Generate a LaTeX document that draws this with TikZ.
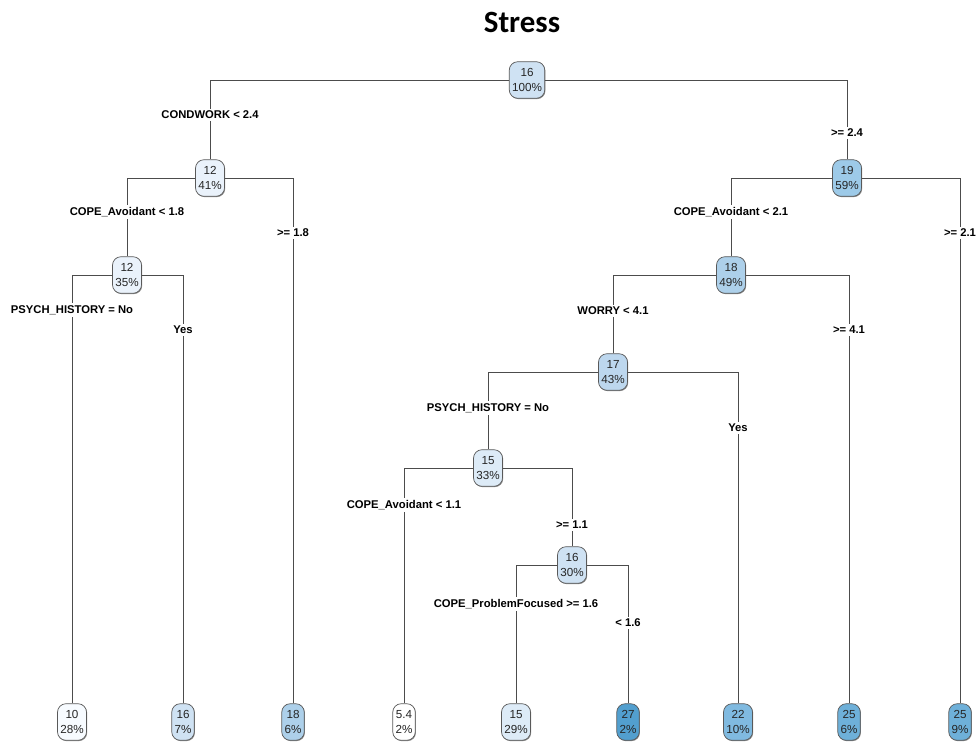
\documentclass[tikz,border=0pt]{standalone}
\usepackage{fontspec}
\setmainfont{Liberation Sans}
\newfontfamily\titlefont{Carlito}
\usetikzlibrary{shadows}

% node fills (value scale, light to dark)
\definecolor{c54}{RGB}{255,255,255}
\definecolor{c10}{RGB}{247,251,255}
\definecolor{c12}{RGB}{234,242,251}
\definecolor{c15}{RGB}{221,235,247}
\definecolor{c16}{RGB}{207,226,243}
\definecolor{c17}{RGB}{189,215,238}
\definecolor{c18}{RGB}{173,208,234}
\definecolor{c19}{RGB}{157,202,232}
\definecolor{c22}{RGB}{128,186,224}
\definecolor{c25}{RGB}{110,176,217}
\definecolor{c27}{RGB}{82,159,207}

\begin{document}
\begin{tikzpicture}[x=0.025cm, y=-0.025cm,
  tnode/.style={draw=black!65, line width=0.5pt, rounded corners=6pt, align=center,
    inner xsep=2pt, inner ysep=1pt, minimum height=26pt,
    font=\fontsize{8.3}{11}\selectfont, text=black!85,
    drop shadow={shadow xshift=0.5pt, shadow yshift=-0.6pt, fill=black!45, opacity=1}},
  lbl/.style={fill=white, inner xsep=1pt, inner ysep=1.5pt,
    font=\bfseries\fontsize{8}{9}\selectfont},
  branch/.style={draw=black!70, line width=0.6pt}]
  \useasboundingbox (0,0) rectangle (979,742);

  % Title
  \node[font=\titlefont\bfseries\fontsize{22}{24}\selectfont] (title) at (522,22) {Stress};

  % Split nodes
  \node[tnode, fill=c16] (n1) at (527,80) {16\\100\%};
  \node[tnode, fill=c12] (n2) at (210,178) {12\\41\%};
  \node[tnode, fill=c19] (n3) at (847,178) {19\\59\%};
  \node[tnode, fill=c12] (n4) at (127,275) {12\\35\%};
  \node[tnode, fill=c18] (n6) at (731,275) {18\\49\%};
  \node[tnode, fill=c17] (n12) at (613,372) {17\\43\%};
  \node[tnode, fill=c15] (n24) at (488,468) {15\\33\%};
  \node[tnode, fill=c16] (n49) at (572,565) {16\\30\%};

  % Leaves
  \def\ly{722}
  \foreach \x/\nm/\v/\p/\c in {72/n8/10/28/c10, 183/n9/16/7/c16, 293/n5/18/6/c18,
      404/n48/5.4/2/c54, 516/n98/15/29/c15, 628/n99/27/2/c27,
      738/n25/22/10/c22, 849/n13/25/6/c25, 960/n7/25/9/c25}
    \node[tnode, fill=\c] (\nm) at (\x,\ly) {\v\\\p\%};

  % Branches
  \draw[branch] (n1.west) -| (n2.north);
  \draw[branch] (n1.east) -| (n3.north);
  \draw[branch] (n2.west) -| (n4.north);
  \draw[branch] (n2.east) -| (n5.north);
  \draw[branch] (n4.west) -| (n8.north);
  \draw[branch] (n4.east) -| (n9.north);
  \draw[branch] (n3.west) -| (n6.north);
  \draw[branch] (n3.east) -| (n7.north);
  \draw[branch] (n6.west) -| (n12.north);
  \draw[branch] (n6.east) -| (n13.north);
  \draw[branch] (n12.west) -| (n24.north);
  \draw[branch] (n12.east) -| (n25.north);
  \draw[branch] (n24.west) -| (n48.north);
  \draw[branch] (n24.east) -| (n49.north);
  \draw[branch] (n49.west) -| (n98.north);
  \draw[branch] (n49.east) -| (n99.north);

  % Split labels
  \node[lbl] (s2) at (210,115) {CONDWORK < 2.4};
  \node[lbl] (s3) at (847,133) {>= 2.4};
  \node[lbl] (s4) at (127,212) {COPE\_Avoidant < 1.8};
  \node[lbl] (s5) at (293,233) {>= 1.8};
  \node[lbl] (s8) at (72,310) {PSYCH\_HISTORY = No};
  \node[lbl] (s9) at (183,330) {Yes};
  \node[lbl] (s6) at (731,212) {COPE\_Avoidant < 2.1};
  \node[lbl] (s7) at (960,233) {>= 2.1};
  \node[lbl] (s12) at (613,311) {WORRY < 4.1};
  \node[lbl] (s13) at (849,330) {>= 4.1};
  \node[lbl] (s24) at (488,408) {PSYCH\_HISTORY = No};
  \node[lbl] (s25) at (738,428) {Yes};
  \node[lbl] (s48) at (404,505) {COPE\_Avoidant < 1.1};
  \node[lbl] (s49) at (572,525) {>= 1.1};
  \node[lbl] (s98) at (516,604) {COPE\_ProblemFocused >= 1.6};
  \node[lbl] (s99) at (628,623) {< 1.6};
\end{tikzpicture}
\end{document}
